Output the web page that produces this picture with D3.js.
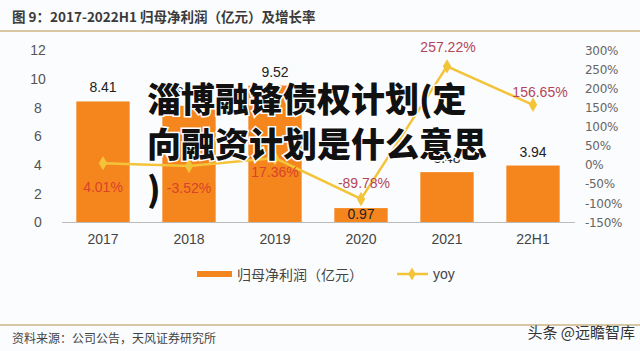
<!DOCTYPE html>
<html><head><meta charset="utf-8">
<script src="https://cdn.jsdelivr.net/npm/d3@7"></script>
<style>
html,body{margin:0;padding:0;background:#fbfcfd;}
svg{display:block;font-family:"Liberation Sans","Noto Sans CJK SC",sans-serif;}
</style></head><body>
<script>
const categories = ["2017","2018","2019","2020","2021","22H1"];
const profit = [8.41, 8.11, 9.52, 0.97, 3.48, 3.94];
const profitLabels = ["8.41","8.11","9.52","0.97","3.48","3.94"];
const yoy = [4.01, -3.52, 17.36, -89.78, 257.22, 156.65];
const yoyLabels = ["4.01%","-3.52%","17.36%","-89.78%","257.22%","156.65%"];
const leftTicks = [0,2,4,6,8,10,12];
const rightTicks = [-150,-100,-50,0,50,100,150,200,250,300];
const title = "图 9：2017-2022H1 归母净利润（亿元）及增长率";
const source = "资料来源：公司公告，天风证券研究所";
const watermark = "头条 @远瞻智库";
const overlayLines = ["淄博融锋债权计划(定","向融资计划是什么意思",")"];
const legendNames = ["归母净利润（亿元）","yoy"];

const W=640,H=351;
const svg=d3.select("body").append("svg").attr("width",W).attr("height",H);
svg.append("rect").attr("width",W).attr("height",H).attr("fill","#fbfcfd");

// title band
svg.append("text").attr("x",12).attr("y",22).attr("font-size",13.5).attr("font-weight","bold")
  .attr("fill","#3a3a3a").attr("font-family","'Noto Sans CJK SC',sans-serif").text(title);
svg.append("line").attr("x1",0).attr("x2",W).attr("y1",31).attr("y2",31).attr("stroke","#d9c7a3").attr("stroke-width",2);

const x=d3.scaleBand().domain(categories).range([60,576]).paddingInner(0.38).paddingOuter(0.19);
const yL=d3.scaleLinear().domain([0,12]).range([222,50]);
const yR=d3.scaleLinear().domain([-150,300]).range([222,50]);

// left axis
const gl=svg.append("g").attr("transform","translate(44,0)")
  .call(d3.axisLeft(yL).tickValues(leftTicks).tickSize(0).tickPadding(0));
gl.select(".domain").remove();
gl.selectAll("text").attr("font-size",14).attr("fill","#555").attr("text-anchor","middle").attr("dx","-6").attr("dy","0.35em");

// right axis
const gr=svg.append("g").attr("transform","translate(585,0)")
  .call(d3.axisRight(yR).tickValues(rightTicks).tickFormat(d=>d+"%").tickSize(0).tickPadding(0));
gr.select(".domain").remove();
gr.selectAll("text").attr("font-size",12).attr("fill","#666").attr("font-family","'DejaVu Sans',sans-serif").attr("letter-spacing","-0.3").attr("dy","0.35em");

// bars
svg.append("g").selectAll("rect").data(categories).join("rect")
  .attr("x",d=>x(d)).attr("width",x.bandwidth())
  .attr("y",(d,i)=>yL(profit[i])).attr("height",(d,i)=>yL(0)-yL(profit[i]))
  .attr("fill","#f5861d");

// x axis
const gx=svg.append("g").attr("transform","translate(0,222)").call(d3.axisBottom(x).tickSize(0).tickPadding(12));
gx.select(".domain").attr("stroke","#bbb").attr("d","M62,0.5H575");
gx.selectAll("text").attr("font-size",14).attr("fill","#444");

// bar labels
svg.append("g").selectAll("text").data(categories).join("text")
  .attr("x",d=>x(d)+x.bandwidth()/2)
  .attr("y",(d,i)=>profit[i]<2 ? yL(profit[i])+11 : yL(profit[i])-9)
  .attr("text-anchor","middle").attr("font-size",14).attr("fill","#222")
  .text((d,i)=>profitLabels[i]);

// yoy line
const line=d3.line().x((d,i)=>x(categories[i])+x.bandwidth()/2).y(d=>yR(d));
svg.append("path").datum(yoy).attr("d",line).attr("fill","none").attr("stroke","#f3c43a").attr("stroke-width",2.5);
svg.append("g").selectAll("path").data(yoy).join("path")
  .attr("transform",(d,i)=>`translate(${x(categories[i])+x.bandwidth()/2},${yR(d)})`)
  .attr("d",d3.symbol(d3.symbolDiamond,60)).attr("fill","#f3c43a");

// yoy labels
const labOff=[24,22,14,-16,-19,-13];
const labDx=[0,0,0,3,1,7];
svg.append("g").selectAll("text").data(yoy).join("text")
  .attr("x",(d,i)=>x(categories[i])+x.bandwidth()/2+labDx[i])
  .attr("y",(d,i)=>yR(d)+labOff[i]+5)
  .attr("text-anchor","middle").attr("font-size",14)
  .attr("fill",(d,i)=>i<3?"#d8432b":"#b4465a")
  .text((d,i)=>yoyLabels[i]);

// legend
const lg=svg.append("g");
lg.append("rect").attr("x",197).attr("y",271).attr("width",35).attr("height",6).attr("fill","#f5861d");
lg.append("text").attr("x",237).attr("y",280).attr("font-size",14).attr("fill","#444")
  .attr("font-family","'Noto Sans CJK SC',sans-serif").text(legendNames[0]);
lg.append("line").attr("x1",397).attr("x2",428).attr("y1",274).attr("y2",274).attr("stroke","#f3c43a").attr("stroke-width",2.5);
lg.append("path").attr("transform","translate(412,274)").attr("d",d3.symbol(d3.symbolDiamond,50)).attr("fill","#f3c43a");
lg.append("text").attr("x",433).attr("y",279).attr("font-size",14).attr("fill","#444").text(legendNames[1]);

// footer
svg.append("line").attr("x1",0).attr("x2",W).attr("y1",325).attr("y2",325).attr("stroke","#d9c7a3").attr("stroke-width",2);
svg.append("text").attr("x",12).attr("y",343).attr("font-size",12).attr("fill","#444")
  .attr("font-family","'Noto Sans CJK SC',sans-serif").text(source);
svg.append("text").attr("x",635).attr("y",338).attr("text-anchor","end").attr("font-size",15).attr("fill","#333")
  .attr("font-family","'Noto Sans CJK SC',sans-serif").text(watermark);

// overlay text
svg.append("g").selectAll("text").data(overlayLines).join("text")
  .attr("x",147).attr("y",(d,i)=>112+i*45)
  .attr("font-size",34).attr("font-weight","900").attr("fill","#111")
  .attr("stroke","#fff").attr("stroke-width",3).attr("paint-order","stroke")
  .attr("font-family","'Noto Sans CJK SC',sans-serif").text(d=>d);
</script>
</body></html>
